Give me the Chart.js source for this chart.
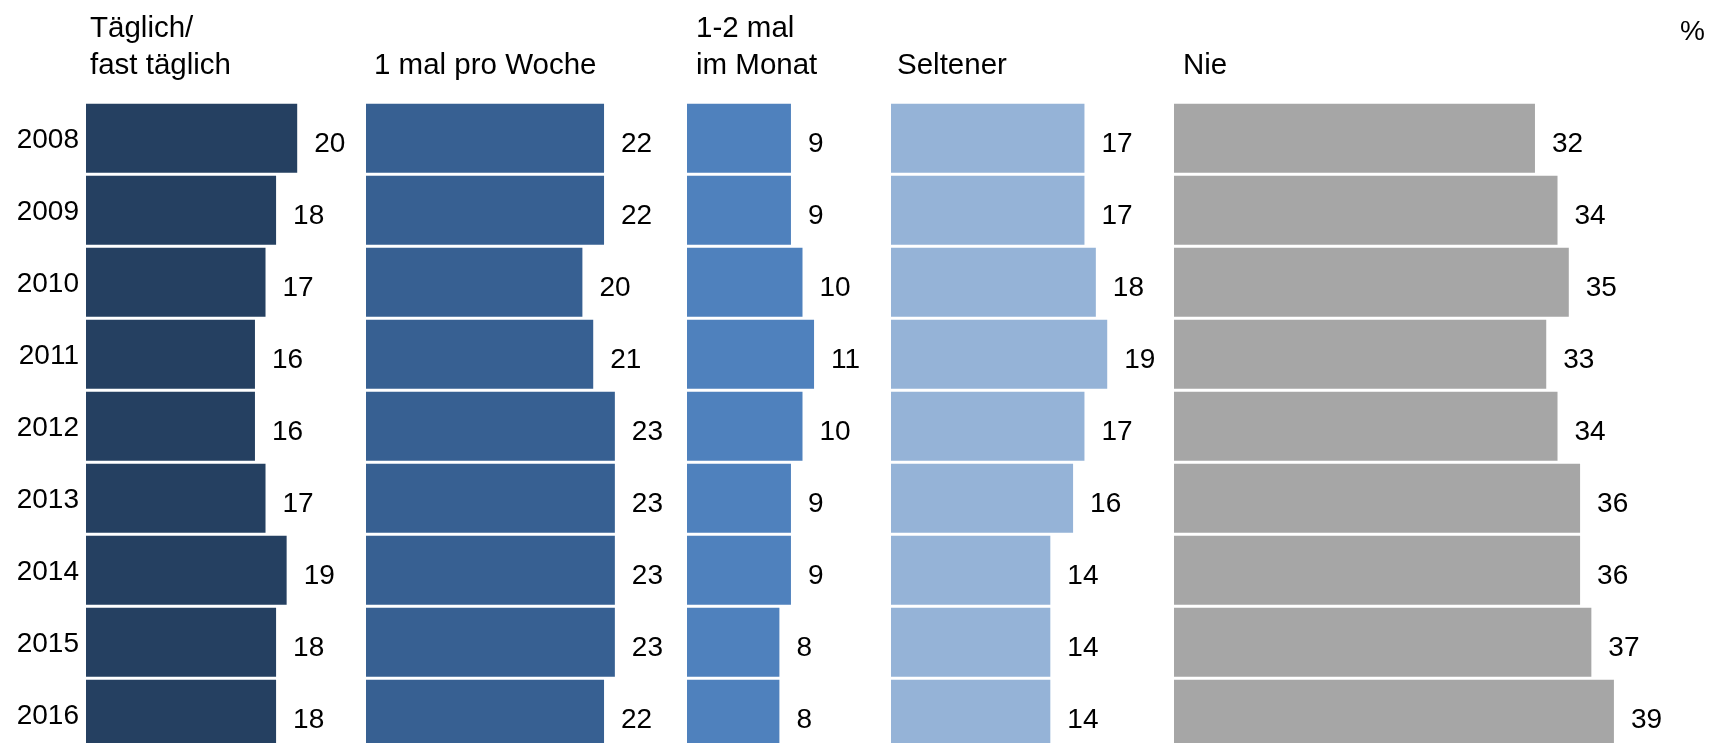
<!DOCTYPE html>
<html>
<head>
<meta charset="utf-8">
<script src="https://cdn.jsdelivr.net/npm/chart.js@4/dist/chart.umd.min.js"></script>
<style>
  body { margin: 0; background: #fff; overflow: hidden; }
  #wrap { position: relative; width: 1711px; height: 743px; overflow: hidden; }
  #wrap canvas { position: absolute; top: 0; }
</style>
</head>
<body>
<div id="wrap">
  <canvas id="p0" width="362" height="776" style="left:0px"></canvas>
  <canvas id="p1" width="300" height="776" style="left:366px"></canvas>
  <canvas id="p2" width="190" height="776" style="left:687px"></canvas>
  <canvas id="p3" width="270" height="776" style="left:891px"></canvas>
  <canvas id="p4" width="537" height="776" style="left:1174px"></canvas>
</div>
<script>
var years = ['2008', '2009', '2010', '2011', '2012', '2013', '2014', '2015', '2016'];
var taeglich = [20, 18, 17, 16, 16, 17, 19, 18, 18];
var proWoche = [22, 22, 20, 21, 23, 23, 23, 23, 22];
var imMonat = [9, 9, 10, 11, 10, 9, 9, 8, 8];
var seltener = [17, 17, 18, 19, 17, 16, 14, 14, 14];
var nie = [32, 34, 35, 33, 34, 36, 36, 37, 39];
var titles = [['Täglich/', 'fast täglich'], ['1 mal pro Woche'], ['1-2 mal', 'im Monat'], ['Seltener'], ['Nie']];
var unitLabel = '%';

var FONT = '"Liberation Sans", Arial, Helvetica, sans-serif';

// titles above each panel, value labels after each bar
var panelText = {
    id: 'panelText',
    afterDatasetsDraw: function (chart, args, opts) {
        var ctx = chart.ctx;
        var area = chart.chartArea;
        ctx.save();
        ctx.fillStyle = '#000';
        ctx.textAlign = 'left';
        ctx.textBaseline = 'alphabetic';
        ctx.font = '29.5px ' + FONT;
        var lines = opts.title;
        for (var i = 0; i < lines.length; i++) {
            ctx.fillText(lines[i], area.left + opts.dx, 74 - (lines.length - 1 - i) * 37.5);
        }
        ctx.font = '28px ' + FONT;
        var data = chart.data.datasets[0].data;
        chart.getDatasetMeta(0).data.forEach(function (bar, i) {
            ctx.fillText(String(data[i]), bar.x + 17, bar.y + 13.6);
        });
        if (opts.unit) {
            ctx.textAlign = 'right';
            ctx.fillText(opts.unit, chart.width - 6, 40);
        }
        ctx.restore();
    }
};

function makePanel(id, values, color, title, dx, pxPerUnit, withYears, unit) {
    var canvas = document.getElementById(id);
    var plotWidth = canvas.width - (withYears ? 86 : 0);
    return new Chart(canvas, {
        type: 'bar',
        data: {
            labels: years,
            datasets: [{
                data: values,
                backgroundColor: color,
                borderWidth: 0,
                barPercentage: 69 / 72,
                categoryPercentage: 1
            }]
        },
        options: {
            indexAxis: 'y',
            responsive: false,
            animation: false,
            devicePixelRatio: 1,
            layout: { padding: { top: 102.2, bottom: 25.8, left: 0, right: 0 } },
            scales: {
                x: { display: false, min: 0, max: plotWidth / pxPerUnit },
                y: {
                    display: withYears,
                    grid: { display: false, drawTicks: false },
                    border: { display: false },
                    ticks: { color: '#000', font: { family: FONT, size: 28 }, padding: 7, labelOffset: 2.5 },
                    afterFit: function (scale) { scale.width = withYears ? 86 : 0; }
                }
            },
            plugins: {
                legend: { display: false },
                tooltip: { enabled: false },
                panelText: { title: title, dx: dx, unit: unit }
            }
        },
        plugins: [panelText]
    });
}

makePanel('p0', taeglich, '#254061', titles[0], 4, 10.56, true, null);
makePanel('p1', proWoche, '#376092', titles[1], 8, 10.82, false, null);
makePanel('p2', imMonat, '#4F81BD', titles[2], 9, 11.55, false, null);
makePanel('p3', seltener, '#95B3D7', titles[3], 6, 11.38, false, null);
makePanel('p4', nie, '#A6A6A6', titles[4], 9, 11.28, false, unitLabel);
</script>
</body>
</html>
